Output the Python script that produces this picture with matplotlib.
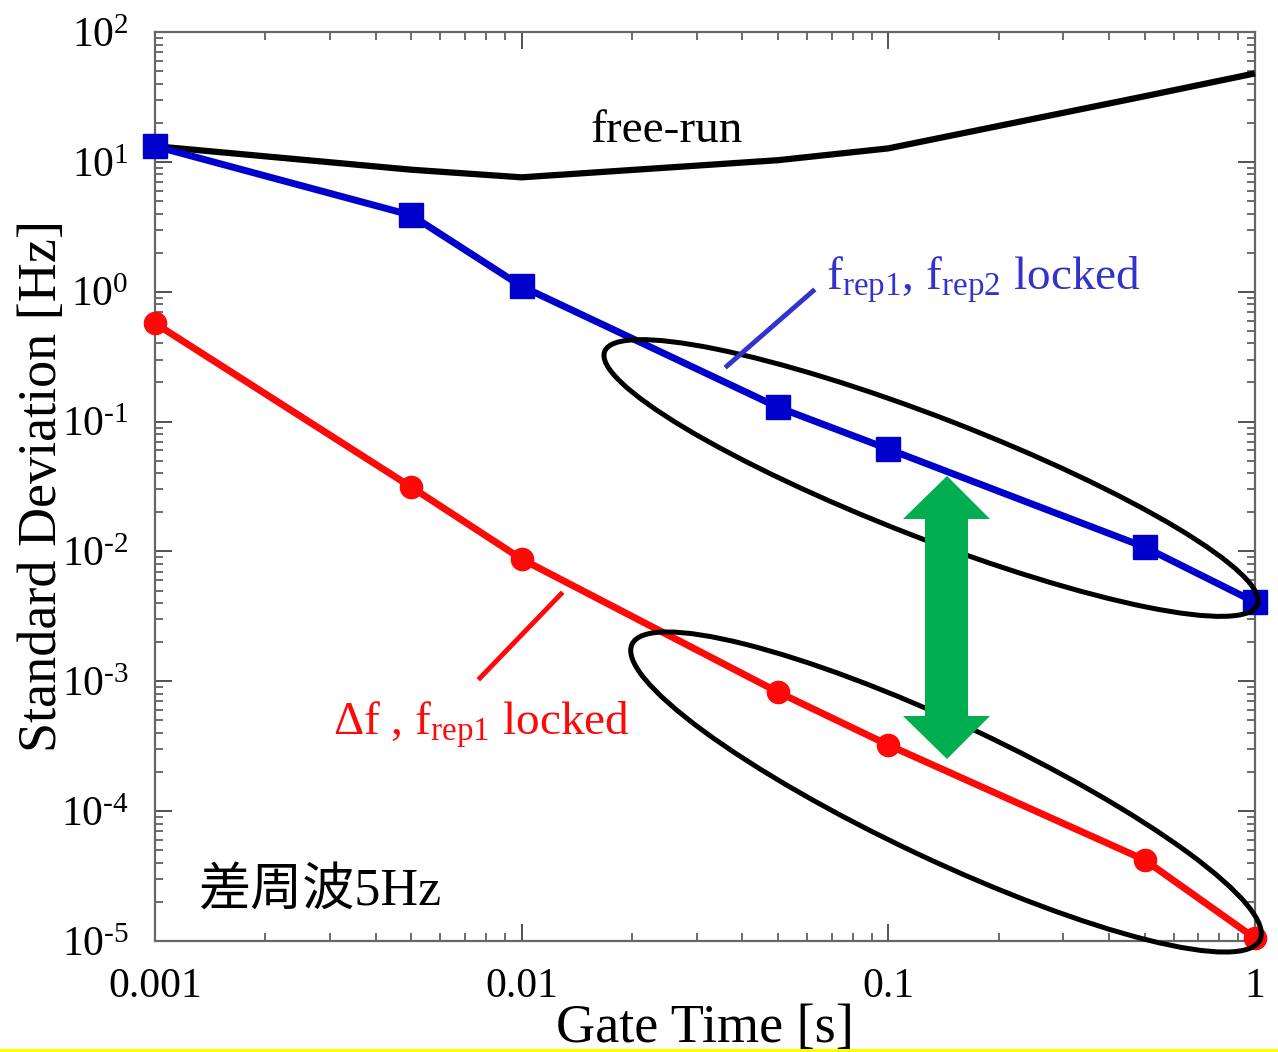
import matplotlib
matplotlib.use('Agg')
import matplotlib.pyplot as plt
from matplotlib.patches import Ellipse, Polygon, Rectangle
from matplotlib.transforms import IdentityTransform
from matplotlib.lines import Line2D
from matplotlib.ticker import LogLocator, NullFormatter

plt.rcParams['font.family'] = ['Liberation Serif', 'Noto Sans CJK JP']
plt.rcParams['mathtext.fontset'] = 'custom'
plt.rcParams['mathtext.rm'] = 'Liberation Serif'
plt.rcParams['mathtext.it'] = 'Liberation Serif:italic'
plt.rcParams['mathtext.bf'] = 'Liberation Serif:bold'

# ---- data ----
gate_time = [0.001, 0.005, 0.01, 0.05, 0.1, 0.5, 1.0]
free_run = [13.2, 8.7, 7.6, 10.3, 12.7, 32.0, 48.0]
frep_locked = [13.2, 3.88, 1.10, 0.129, 0.0614, 0.0108, 0.00407]
df_locked = [0.571, 0.0313, 0.00873, 8.26e-4, 3.23e-4, 4.21e-5, 1.05e-5]

xtick_vals = [0.001, 0.01, 0.1, 1]
xtick_labels = ['0.001', '0.01', '0.1', '1']
ytick_vals = [1e-5, 1e-4, 1e-3, 1e-2, 1e-1, 1e0, 1e1, 1e2]
ytick_labels = [r'$10^{\text{-5}}$', r'$10^{\text{-4}}$', r'$10^{\text{-3}}$', r'$10^{\text{-2}}$',
                r'$10^{\text{-1}}$', r'$10^{0}$', r'$10^{1}$', r'$10^{2}$']

W, H = 1278, 1052
fig = plt.figure(figsize=(W / 100, H / 100), dpi=100)
ax = fig.add_axes([155 / W, (H - 941) / H, 1100 / W, 909 / H])
ax.set_xscale('log')
ax.set_yscale('log')
ax.set_xlim(0.001, 1)
ax.set_ylim(1e-5, 1e2)

BLUE = '#0000CC'
RED = '#FF0808'

ax.plot(gate_time, free_run, color='black', lw=4.5, solid_capstyle='butt', zorder=3, clip_on=False)
ax.plot(gate_time, frep_locked, color=BLUE, lw=5, marker='s', ms=17, zorder=4, clip_on=False)
ax.plot(gate_time, df_locked, color=RED, lw=5, marker='o', ms=16, zorder=4, clip_on=False)

ax.set_xticks(xtick_vals)
ax.set_xticklabels(xtick_labels)
ax.set_yticks(ytick_vals)
ax.set_yticklabels(ytick_labels)
ax.xaxis.set_minor_locator(LogLocator(base=10, subs=range(2, 10), numticks=20))
ax.yaxis.set_minor_locator(LogLocator(base=10, subs=range(2, 10), numticks=20))
ax.xaxis.set_minor_formatter(NullFormatter())
ax.yaxis.set_minor_formatter(NullFormatter())
ax.tick_params(which='both', direction='in', top=True, right=True, color='#444444')
ax.tick_params(which='major', length=12, width=1.3, labelsize=30, pad=19)
ax.tick_params(which='minor', length=6, width=1.1)
for s in ax.spines.values():
    s.set_color('#666666')
    s.set_linewidth(1.6)

ax.set_xlabel('Gate Time [s]', fontsize=39, labelpad=-2)
ax.set_ylabel('Standard Deviation [Hz]', fontsize=39)
ax.yaxis.set_label_coords((68 - 155) / 1100, 0.5)


def disp(x, y):
    return (x, H - y)


idt = IdentityTransform()
# ellipses (pixel space)
e1 = Ellipse(disp(931, 478), 700, 120, angle=-21.2, fill=False, ec='black', lw=3.6, transform=idt, zorder=5)
e2 = Ellipse(disp(946, 792), 694, 136, angle=-25.2, fill=False, ec='black', lw=3.6, transform=idt, zorder=5)
fig.add_artist(e1)
fig.add_artist(e2)

# double green arrow
pts = [(947, 476), (990, 519), (968, 519), (968, 716), (990, 716), (947, 759),
       (903, 716), (925, 716), (925, 519), (903, 519)]
arrow = Polygon([disp(x, y) for x, y in pts], closed=True, fc='#00AD4F', ec='none',
                transform=idt, zorder=6)
fig.add_artist(arrow)

# annotation leader lines
l1 = Line2D([727, 813], [H - 366, H - 291], color='#3333CC', lw=3.5, transform=idt, zorder=6)
l2 = Line2D([480, 561], [H - 678, H - 594], color=RED, lw=3.5, transform=idt, zorder=6)
fig.add_artist(l1)
fig.add_artist(l2)

# texts
def tx(x, y, s, **kw):
    fig.text(x / W, 1 - y / H, s, **kw)

tx(667, 131, 'free-run', fontsize=34, ha='center', va='center', color='black')
tx(826, 290, r'$\mathrm{f}_{\mathrm{rep1}}$, $\mathrm{f}_{\mathrm{rep2}}$ locked', fontsize=34,
   ha='left', va='baseline', color='#3333CC')
tx(333, 735, r'Δf , $\mathrm{f}_{\mathrm{rep1}}$ locked', fontsize=34,
   ha='left', va='baseline', color=RED)
tx(198, 905, '差周波5Hz', fontsize=37.5, ha='left', va='baseline', color='black')

# thin yellow band at the bottom edge
fig.add_artist(Rectangle((0, 0), 1, 3 / H, transform=fig.transFigure, fc='#FFFF00', ec='none'))

fig.savefig('out.png', dpi=100)
